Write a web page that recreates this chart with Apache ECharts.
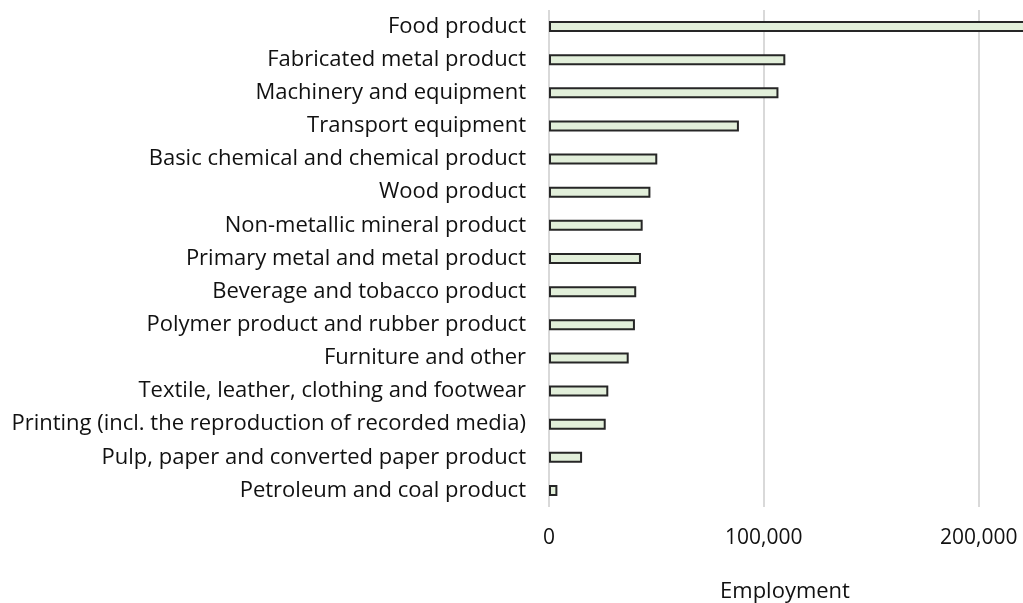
<!DOCTYPE html>
<html>
<head>
<meta charset="utf-8">
<script src="https://cdn.jsdelivr.net/npm/echarts@6/dist/echarts.min.js"></script>
<style>
  html, body { margin: 0; padding: 0; background: #ffffff; }
  #chart { width: 1023px; height: 603px; }
</style>
</head>
<body>
<div id="chart"></div>
<script>
// Manufacturing industries, listed top to bottom
const industries = [
  'Food product',
  'Fabricated metal product',
  'Machinery and equipment',
  'Transport equipment',
  'Basic chemical and chemical product',
  'Wood product',
  'Non-metallic mineral product',
  'Primary metal and metal product',
  'Beverage and tobacco product',
  'Polymer product and rubber product',
  'Furniture and other',
  'Textile, leather, clothing and footwear',
  'Printing (incl. the reproduction of recorded media)',
  'Pulp, paper and converted paper product',
  'Petroleum and coal product'
];

// Employment (persons) per industry, same order
const employment = [
  228000, 110000, 106800, 88400, 50400, 47200, 43600, 42800,
  40600, 40000, 37100, 27600, 26400, 15400, 3900
];

// Value axis ticks
const axisMin = 0;
const axisMax = 219700;
const axisStep = 100000;
const axisTitle = 'Employment';

const chart = echarts.init(document.getElementById('chart'), null, { renderer: 'canvas' });

const font = '"Open Sans", "Liberation Sans", sans-serif';

chart.setOption({
  animation: false,
  backgroundColor: '#ffffff',
  grid: { left: 549, right: 2, top: 10, bottom: 96, containLabel: false, outerBoundsMode: 'none' },
  xAxis: {
    type: 'value',
    min: axisMin,
    max: axisMax,
    interval: axisStep,
    name: axisTitle,
    nameLocation: 'middle',
    nameGap: 74,
    nameTextStyle: { fontFamily: font, fontSize: 22, color: '#111111' },
    axisLine: { show: false },
    axisTick: { show: false },
    axisLabel: {
      margin: 21,
      fontFamily: font,
      fontSize: 21,
      color: '#111111',
      showMaxLabel: false,
      formatter: v => v.toLocaleString('en-US')
    },
    splitLine: { show: true, showMaxLine: false, lineStyle: { color: '#d9d9d9', width: 2 } }
  },
  yAxis: {
    type: 'category',
    inverse: true,
    data: industries,
    axisLine: { show: false },
    axisTick: { show: false },
    axisLabel: { margin: 23, fontFamily: font, fontSize: 22, color: '#111111' }
  },
  series: [{
    type: 'bar',
    data: employment,
    barWidth: 11,
    // the longest bar runs on past the plot's right edge
    clip: false,
    itemStyle: { color: '#e2efda', borderColor: '#262626', borderWidth: 2 }
  }]
});
</script>
</body>
</html>
